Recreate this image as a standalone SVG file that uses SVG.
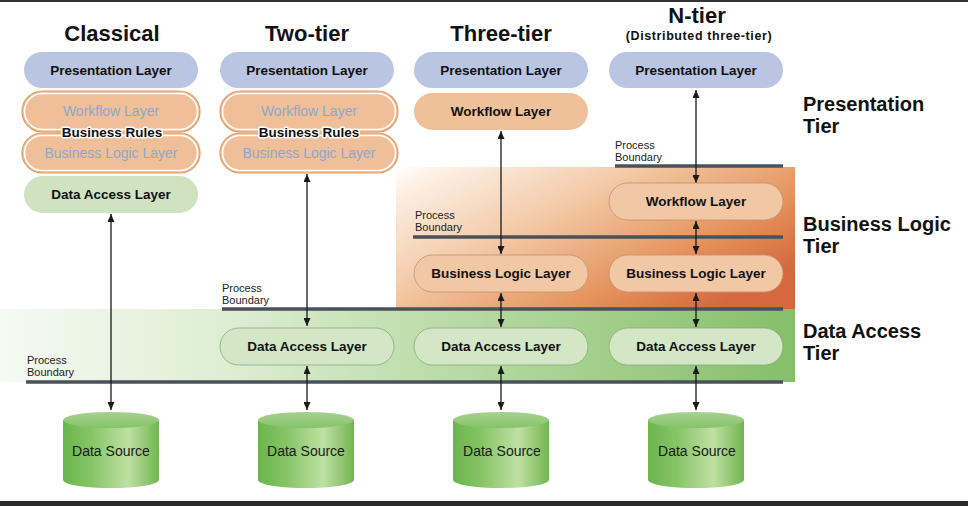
<svg xmlns="http://www.w3.org/2000/svg" width="968" height="506" viewBox="0 0 968 506">
<defs>
<style>
text{font-family:"Liberation Sans",Arial,sans-serif;fill:#111}
.title{font-size:22px;font-weight:bold;text-anchor:middle}
.sub{font-size:12.5px;font-weight:bold;text-anchor:middle;letter-spacing:0.6px}
.tier{font-size:20px;font-weight:bold}
.lbl{font-size:13.5px;font-weight:bold;text-anchor:middle}
.faint{font-size:14px;text-anchor:middle;fill:#8ea7cc}
.pb{font-size:11px;fill:#222}
.ds{font-size:14px;text-anchor:middle;fill:#1a1a1a}
.pres{fill:#b9c5e2}
.orng{fill:#efc19b}
.orng2{fill:#f2c7a4;stroke:#c3906c;stroke-width:0.8}
.grn{fill:#cfe3c1}
.grn2{fill:#d3e7c6;stroke:#8ca77e;stroke-width:0.8}
.dbl{fill:#eebf99;stroke:#e49b68;stroke-width:1.2}
.dbli{fill:none;stroke:#fff;stroke-width:1.6}
.bnd{stroke:#4a5159;stroke-width:3.5}
.conn{stroke:#1a1a1a;stroke-width:1.3;fill:none;marker-start:url(#ah);marker-end:url(#ah)}
.halo{paint-order:stroke;stroke:#fff;stroke-width:3px;stroke-linejoin:round}
</style>
<marker id="ah" viewBox="0 0 8 7" refX="8" refY="3.5" markerWidth="8" markerHeight="7" markerUnits="userSpaceOnUse" orient="auto-start-reverse">
<path d="M0,0 L8,3.5 L0,7 z" fill="#1a1a1a"/>
</marker>
<linearGradient id="og" x1="0" y1="0" x2="1" y2="0.7">
<stop offset="0" stop-color="#ffffff"/>
<stop offset="0.08" stop-color="#fdf1e7"/>
<stop offset="0.4" stop-color="#f3cba9"/>
<stop offset="0.75" stop-color="#e5955f"/>
<stop offset="1" stop-color="#d5683e"/>
</linearGradient>
<linearGradient id="gg" x1="0" y1="0" x2="1" y2="0">
<stop offset="0" stop-color="#f6faf3"/>
<stop offset="0.3" stop-color="#dcedd1"/>
<stop offset="0.6" stop-color="#b4d9a1"/>
<stop offset="1" stop-color="#85bf69"/>
</linearGradient>
<linearGradient id="cyl" x1="0" y1="0" x2="1" y2="0">
<stop offset="0" stop-color="#6bb54c"/>
<stop offset="0.3" stop-color="#86c566"/>
<stop offset="0.68" stop-color="#bfe0a3"/>
<stop offset="1" stop-color="#72b64f"/>
</linearGradient>
<linearGradient id="cyltop" x1="0" y1="0" x2="0" y2="1">
<stop offset="0" stop-color="#a7d290"/>
<stop offset="1" stop-color="#86c36a"/>
</linearGradient>
</defs>

<rect x="0" y="0" width="968" height="2" fill="#333"/>
<rect x="0" y="501" width="968" height="5" fill="#2b2b2b"/>

<g id="regions">
<rect x="396" y="167" width="399" height="142" fill="url(#og)"/>
<rect x="0" y="309" width="795" height="73" fill="url(#gg)"/>
</g>

<g id="titles">
<text class="title" x="112" y="41">Classical</text>
<text class="title" x="307" y="41">Two-tier</text>
<text class="title" x="501" y="41">Three-tier</text>
<text class="title" x="697" y="23">N-tier</text>
<text class="sub" x="699" y="40">(Distributed three-tier)</text>
</g>

<g id="tier-labels">
<text class="tier" x="803" y="111">Presentation</text>
<text class="tier" x="803" y="133">Tier</text>
<text class="tier" x="803" y="231">Business Logic</text>
<text class="tier" x="803" y="253">Tier</text>
<text class="tier" x="803" y="338">Data Access</text>
<text class="tier" x="803" y="360">Tier</text>
</g>

<g id="boundaries">
<line class="bnd" x1="26" y1="382" x2="783" y2="382"/>
<text class="pb" x="27" y="364">Process</text>
<text class="pb" x="27" y="376">Boundary</text>
<line class="bnd" x1="222" y1="309" x2="783" y2="309"/>
<text class="pb" x="222" y="292">Process</text>
<text class="pb" x="222" y="304">Boundary</text>
<line class="bnd" x1="413" y1="237" x2="783" y2="237"/>
<text class="pb" x="415" y="219">Process</text>
<text class="pb" x="415" y="231">Boundary</text>
<line class="bnd" x1="615" y1="166" x2="783" y2="166"/>
<text class="pb" x="615" y="149">Process</text>
<text class="pb" x="615" y="161">Boundary</text>
</g>

<g id="connectors">
<line class="conn" x1="111" y1="214" x2="111" y2="410"/>
<line class="conn" x1="307" y1="174" x2="307" y2="326"/>
<line class="conn" x1="307" y1="366" x2="307" y2="410"/>
<line class="conn" x1="501" y1="131" x2="501" y2="254"/>
<line class="conn" x1="501" y1="293" x2="501" y2="327"/>
<line class="conn" x1="501" y1="366" x2="501" y2="410"/>
<line class="conn" x1="696" y1="90" x2="696" y2="183"/>
<line class="conn" x1="696" y1="221" x2="696" y2="254"/>
<line class="conn" x1="696" y1="293" x2="696" y2="327"/>
<line class="conn" x1="696" y1="366" x2="696" y2="410"/>
</g>

<g id="classical">
<g id="c-pres"><rect class="pres" x="24" y="52" width="174" height="36" rx="18"/><text class="lbl" x="111" y="75">Presentation Layer</text></g>
<g id="c-workflow"><rect class="dbl" x="22" y="91" width="178" height="41" rx="20.5"/><rect class="dbli" x="24.5" y="93.5" width="173" height="36" rx="18"/><text class="faint" x="111" y="116">Workflow Layer</text></g>
<g id="c-bll"><rect class="dbl" x="22" y="133" width="178" height="40" rx="20"/><rect class="dbli" x="24.5" y="135.5" width="173" height="35" rx="17.5"/><text class="faint" x="111" y="158">Business Logic Layer</text></g>
<g id="c-rules"><text class="lbl halo" x="112" y="137">Business Rules</text></g>
<g id="c-dal"><rect class="grn" x="24" y="176" width="174" height="37" rx="18.5"/><text class="lbl" x="111" y="199">Data Access Layer</text></g>
</g>

<g id="two-tier">
<g id="t-pres"><rect class="pres" x="220" y="52" width="174" height="36" rx="18"/><text class="lbl" x="307" y="75">Presentation Layer</text></g>
<g id="t-workflow"><rect class="dbl" x="220" y="91" width="178" height="41" rx="20.5"/><rect class="dbli" x="222.5" y="93.5" width="173" height="36" rx="18"/><text class="faint" x="309" y="116">Workflow Layer</text></g>
<g id="t-bll"><rect class="dbl" x="220" y="133" width="178" height="40" rx="20"/><rect class="dbli" x="222.5" y="135.5" width="173" height="35" rx="17.5"/><text class="faint" x="309" y="158">Business Logic Layer</text></g>
<g id="t-rules"><text class="lbl halo" x="309" y="137">Business Rules</text></g>
<g id="t-dal"><rect class="grn2" x="220" y="328" width="174" height="37" rx="18.5"/><text class="lbl" x="307" y="351">Data Access Layer</text></g>
</g>

<g id="three-tier">
<g id="h-pres"><rect class="pres" x="414" y="52" width="174" height="36" rx="18"/><text class="lbl" x="501" y="75">Presentation Layer</text></g>
<g id="h-workflow"><rect class="orng" x="414" y="93" width="174" height="37" rx="18.5"/><text class="lbl" x="501" y="116">Workflow Layer</text></g>
<g id="h-bll"><rect class="orng2" x="414" y="255" width="174" height="37" rx="18.5"/><text class="lbl" x="501" y="278">Business Logic Layer</text></g>
<g id="h-dal"><rect class="grn2" x="414" y="328" width="174" height="37" rx="18.5"/><text class="lbl" x="501" y="351">Data Access Layer</text></g>
</g>

<g id="n-tier">
<g id="n-pres"><rect class="pres" x="609" y="52" width="174" height="36" rx="18"/><text class="lbl" x="696" y="75">Presentation Layer</text></g>
<g id="n-workflow"><rect class="orng2" x="609" y="183" width="174" height="37" rx="18.5"/><text class="lbl" x="696" y="206">Workflow Layer</text></g>
<g id="n-bll"><rect class="orng2" x="609" y="255" width="174" height="37" rx="18.5"/><text class="lbl" x="696" y="278">Business Logic Layer</text></g>
<g id="n-dal"><rect class="grn2" x="609" y="328" width="174" height="37" rx="18.5"/><text class="lbl" x="696" y="351">Data Access Layer</text></g>
</g>

<g id="sources">
<g id="ds1"><path d="M63,420 L63,480 A48,8 0 0 0 159,480 L159,420 Z" fill="url(#cyl)"/><ellipse cx="111" cy="420" rx="48" ry="8" fill="url(#cyltop)"/><text class="ds" x="111" y="456">Data Source</text></g>
<g id="ds2"><path d="M258,420 L258,480 A48,8 0 0 0 354,480 L354,420 Z" fill="url(#cyl)"/><ellipse cx="306" cy="420" rx="48" ry="8" fill="url(#cyltop)"/><text class="ds" x="306" y="456">Data Source</text></g>
<g id="ds3"><path d="M453,420 L453,480 A48,8 0 0 0 549,480 L549,420 Z" fill="url(#cyl)"/><ellipse cx="501" cy="420" rx="48" ry="8" fill="url(#cyltop)"/><text class="ds" x="502" y="456">Data Source</text></g>
<g id="ds4"><path d="M648,420 L648,480 A48,8 0 0 0 744,480 L744,420 Z" fill="url(#cyl)"/><ellipse cx="696" cy="420" rx="48" ry="8" fill="url(#cyltop)"/><text class="ds" x="697" y="456">Data Source</text></g>
</g>
</svg>
